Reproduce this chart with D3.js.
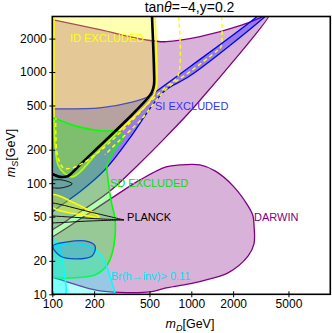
<!DOCTYPE html>
<html>
<head>
<meta charset="utf-8">
<script src="https://cdn.jsdelivr.net/npm/d3@7"></script>
<style>
body { margin: 0; background: #fff; }
svg { display: block; font-family: "Liberation Sans", Arial, "DejaVu Sans", sans-serif; }
</style>
</head>
<body>
<div id="chart"></div>
<script>
// all points are [mD, mS] in GeV
var xTicks = [100, 200, 500, 1000, 2000, 5000];
var yTicks = [10, 20, 50, 100, 200, 500, 1000, 2000];

var darwinUpper = [[88,3050],[100,2958],[220,2404],[464,1954],[658,1875],[1155,2080],[2240,2612],[3390,3214],
  [3683,3350],[1099,518],[658,261],[407,143],[256,83.6],[123,44.8],[100,37.9],[88.6,34.2]];
var darwinLower = [[89,30.8],[100,32.8],[269,73.8],[428,107],[658,140],[829,146],[1155,146],[1481,129],[1995,94.6],
  [2558,62.5],[2779,50.7],[2825,42.1],[2825,28.4],[2558,22.1],[1837,15.6],[1341,13.7],[1029,12.6],[658,11.4],
  [505,10.5],[228,10.7],[158,11.9],[100,14.3],[89,14.9]];
var siRegion = [[88.6,467],[100,467],[220,477],[381,540],[505,611],[567,679],[979,1117],[3020,3214],[3334,3640],
  [3807,3640],[3447,3214],[979,925],[658,693],[548,540],[464,404],[362,256],[239,132],[158,83.6],[117,63.8],
  [100,55.1],[88.6,49.7]];
var idRegion = [[103,3640],[103,372],[104.6,221],[110,146],[121,124],[139,114],[158,126],[220,200],[362,365],
  [505,551],[557,693],[567,946],[557,1954],[548,3640]];
var idSliver = [[100,78.5],[139,67.9],[217,49.7],[164,51.8],[100,61.2]];
var sdRegion = [[88.6,387],[100,387],[146,328],[220,296],[302,290],[323,261],[287,208],[256,162],[247,140],
  [252,107],[264,70.8],[283,46.7],[278,27.8],[260,20.4],[239,17.3],[203,14.9],[172,14.3],[114,14.0],[100,14.3],[88.6,14.3]];
var brInvOuter = [[88.6,27.2],[100,26.7],[123,28.4],[172,27.8],[217,23.6],[239,19.5],[256,15.6],[269,12.6],[278,9.6],[88.6,9.6]];
var brInvInner = [[88.6,32.1],[100,32.1],[112,26.7],[119,20.4],[121,16.6],[123,9.6],[88.6,9.6]];
var siLoop = [[101,27.2],[128,29.6],[172,30.2],[203,27.2],[193,22.1],[146,20.8],[114,22.1]];
var planckMain = [[522,3640],[522,3214],[530,1954],[539,1050],[539,769],[522,665],[488,587],[362,396],[220,217],
  [172,162],[146,132],[130,116],[113.6,114],[100,121],[88.6,126]];
var planckThin = [
  [[88,67],[100,66.5],[187,55.1],[328,46.7]],
  [[88,51],[100,50.7],[220,47.7],[328,46.7]],
  [[88,44],[100,43.9],[187,45.7],[328,46.7]],
  [[88,107],[100,107],[117,107],[139,98.6],[117,90.7],[100,90.7],[88,90.7]]
];
var idDashA = [[802,3640],[802,925],[658,738],[505,540],[307,284],[203,180],[146,140],[121,137],[110,169],[106,272],[106,387]];
var idDashB = [[1636,3640],[1636,1690],[1531,1556],[979,1007],[658,700],[428,365],[307,245],[239,180]];

var margin = {top: 16.5, left: 52.3},
    width = 278,
    height = 277.8;

var svg = d3.select("#chart").append("svg")
    .attr("width", 332)
    .attr("height", 333);

var x = d3.scaleLog().domain([100, 10000]).range([0, width]);
var y = d3.scaleLog().domain([10, 3162]).range([height, 0]);

svg.append("defs").append("clipPath").attr("id", "plotclip")
  .append("rect").attr("width", width).attr("height", height);

var g = svg.append("g").attr("transform", "translate(" + margin.left + "," + margin.top + ")");
var plot = g.append("g").attr("clip-path", "url(#plotclip)");

var line = d3.line()
    .x(function(d) { return x(d[0]); })
    .y(function(d) { return y(d[1]); })
    .curve(d3.curveCatmullRom.alpha(0.5));
var loopLine = d3.line()
    .x(function(d) { return x(d[0]); })
    .y(function(d) { return y(d[1]); })
    .curve(d3.curveCatmullRomClosed.alpha(0.5));

function region(pts, col, op, sw) {
  plot.append("path")
    .attr("d", line(pts) + "Z")
    .attr("fill", col)
    .attr("fill-opacity", op)
    .attr("stroke", col)
    .attr("stroke-width", sw);
}

// drawing order matters, later fills tint earlier lines
region(darwinUpper, "#800080", 0.3, 1.3);
region(darwinLower, "#800080", 0.3, 1.3);
region(siRegion, "#0000ff", 0.3, 1.3);
region(idRegion, "#ffff00", 0.3, 1.6);
region(sdRegion, "#00ff00", 0.3, 1.6);
region(brInvOuter, "#00ffff", 0.3, 1.6);
region(brInvInner, "#00ffff", 0.3, 1.6);

plot.append("path")
  .attr("d", loopLine(siLoop))
  .attr("fill", "#0000ff").attr("fill-opacity", 0.12)
  .attr("stroke", "#0a4fc8").attr("stroke-width", 1.3);

plot.append("path")
  .attr("d", loopLine(idSliver))
  .attr("fill", "#ffff00").attr("fill-opacity", 0.3)
  .attr("stroke", "#ffff00").attr("stroke-width", 1.6);

planckThin.forEach(function(p) {
  plot.append("path").attr("d", line(p))
    .attr("fill", "none").attr("stroke", "#111").attr("stroke-width", 1);
});

plot.append("path").attr("d", line(planckMain))
  .attr("fill", "none").attr("stroke", "#000").attr("stroke-width", 2.6);

[idDashA, idDashB].forEach(function(p) {
  plot.append("path").attr("d", line(p))
    .attr("fill", "none").attr("stroke", "#ffff00").attr("stroke-width", 1.5)
    .attr("stroke-dasharray", "4,3");
});

// region labels
var labels = [
  {t: "ID EXCLUDED", mD: 134, mS: 1875, c: "#ffff00"},
  {t: "SI EXCLUDED", mD: 548, mS: 457, c: "#3333ff"},
  {t: "SD EXCLUDED", mD: 260, mS: 92.6, c: "#00e000"},
  {t: "PLANCK", mD: 345, mS: 45.8, c: "#000"},
  {t: "DARWIN", mD: 2825, mS: 45.8, c: "#800080"},
  {t: "Br(h\u2192inv)> 0.11", mD: 264, mS: 13.45, c: "#00e0f0"}
];
g.selectAll(".lbl").data(labels).enter().append("text")
  .attr("class", "lbl")
  .attr("x", function(d) { return x(d.mD); })
  .attr("y", function(d) { return y(d.mS); })
  .attr("fill", function(d) { return d.c; })
  .style("font-size", "11px")
  .text(function(d) { return d.t; });

// axes
var xAxis = g.append("g").attr("transform", "translate(0," + height + ")")
  .call(d3.axisBottom(x).tickValues(xTicks).tickFormat(d3.format("d")).tickSize(3).tickPadding(2.2));
var yAxis = g.append("g")
  .call(d3.axisLeft(y).tickValues(yTicks).tickFormat(d3.format("d")).tickSize(3).tickPadding(2.5));
[xAxis, yAxis].forEach(function(a) {
  a.select(".domain").remove();
  a.selectAll("text").style("font-size", "12px").attr("fill", "#000").style("font-family", "'Liberation Sans', Arial, sans-serif");
  a.selectAll(".tick line").attr("stroke", "#000").attr("stroke-width", 1);
});
xAxis.selectAll(".tick line").attr("y1", -3);
yAxis.selectAll(".tick line").attr("x1", 3);

g.append("rect")
  .attr("width", width).attr("height", height)
  .attr("fill", "none").attr("stroke", "#000").attr("stroke-width", 1.6);

// title and axis titles
var title = svg.append("text").attr("x", 189.5).attr("y", 11.5)
  .attr("text-anchor", "middle").style("font-size", "14px");
title.append("tspan").text("tan");
title.append("tspan").style("font-style", "italic").text("\u03b8");
title.append("tspan").text("=\u22124,y=0.2");

var xl = svg.append("text").attr("x", 190).attr("y", 328)
  .attr("text-anchor", "middle").style("font-size", "12.5px");
xl.append("tspan").style("font-style", "italic").text("m");
xl.append("tspan").style("font-style", "italic").style("font-size", "9px").attr("dy", 3).text("D");
xl.append("tspan").attr("dy", -3).text("[GeV]");

var yl = svg.append("text").attr("transform", "translate(15,153) rotate(-90)")
  .attr("text-anchor", "middle").style("font-size", "12.5px");
yl.append("tspan").style("font-style", "italic").text("m");
yl.append("tspan").style("font-style", "italic").style("font-size", "9px").attr("dy", 3).text("S");
yl.append("tspan").attr("dy", -3).text("[GeV]");
</script>
</body>
</html>
